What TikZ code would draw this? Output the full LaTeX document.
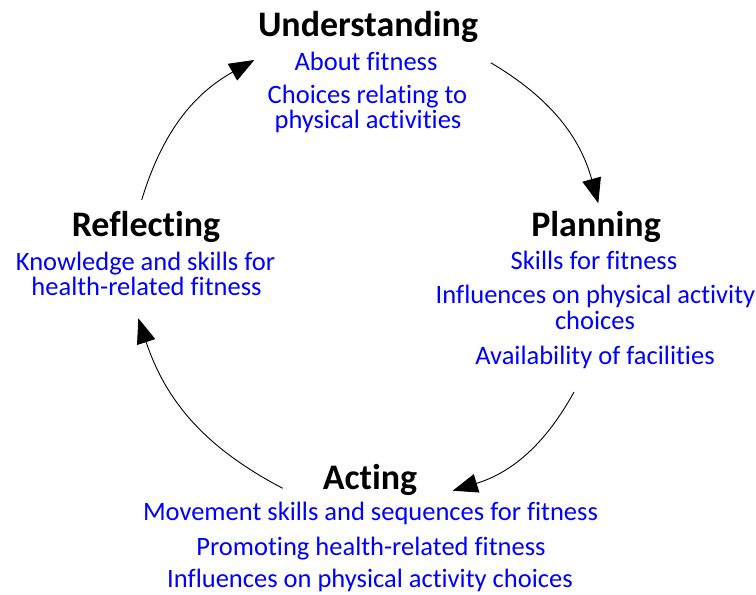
\documentclass[tikz,border=0pt]{standalone}
\usepackage{fontspec}
\setmainfont{Carlito}[Ligatures=NoCommon]
\usetikzlibrary{arrows.meta}
\newlength\itemprobe
\newlength\headprobe
\begin{document}
% font sizes chosen from the width of a sample line
\settowidth\itemprobe{\fontsize{10pt}{12pt}\selectfont Movement skills and sequences for fitness}%
\settowidth\headprobe{\fontsize{10pt}{12pt}\selectfont\bfseries Understanding}%
\pgfmathsetmacro\itemsize{10*455/\itemprobe}%
\pgfmathsetmacro\headsize{10*220/\headprobe}%
\begin{tikzpicture}[x=1pt,y=-1pt]
\tikzset{
  head/.style={anchor=base, inner sep=0pt,
    font=\fontsize{\headsize pt}{\headsize pt}\selectfont\bfseries},
  entry/.style={anchor=base, inner sep=0pt, text=blue,
    font=\fontsize{\itemsize pt}{\itemsize pt}\selectfont},
  cyclearrow/.style={-{Triangle[length=25pt,width=19pt]}, line width=0.9pt, bend left=22}
}
\path[use as bounding box] (0,0) rectangle (756,595);

% Understanding
\node[head]  (und)  at (368,36.7)  {Understanding};
\node[entry] (und1) at (366,70)    {About fitness};
\node[entry] (und2) at (367.5,103.3) {Choices relating to};
\node[entry] (und3) at (368,128.3) {physical activities};

% Planning
\node[head]  (pla)  at (596,236)   {Planning};
\node[entry] (pla1) at (594,269.3) {Skills for fitness};
\node[entry] (pla2) at (595.5,303.3) {Influences on physical activity};
\node[entry] (pla3) at (595,329.3) {choices};
\node[entry] (pla4) at (595,364)   {Availability of facilities};

% Acting
\node[head]  (act)  at (370,489.3) {Acting};
\node[entry] (act1) at (370.5,520.7) {Movement skills and sequences for fitness};
\node[entry] (act2) at (371,555.7) {Promoting health-related fitness};
\node[entry] (act3) at (370,587.3) {Influences on physical activity choices};

% Reflecting
\node[head]  (ref)  at (146,236.7) {Reflecting};
\node[entry] (ref1) at (145.5,270)  {Knowledge and skills for};
\node[entry] (ref2) at (146.5,295)  {health-related fitness};

% ends of the cycle arrows
\coordinate (a1s) at (490.7,62.7);
\coordinate (a1e) at (598.3,203.3);
\coordinate (a2s) at (574,392);
\coordinate (a2e) at (452.7,490.7);
\coordinate (a3s) at (282.7,488.3);
\coordinate (a3e) at (138.3,318.3);
\coordinate (a4s) at (141.7,200);
\coordinate (a4e) at (254.3,60);

\draw[cyclearrow] (a1s) to (a1e);
\draw[cyclearrow] (a2s) to (a2e);
\draw[cyclearrow] (a3s) to (a3e);
\draw[cyclearrow] (a4s) to (a4e);
\end{tikzpicture}
\end{document}
